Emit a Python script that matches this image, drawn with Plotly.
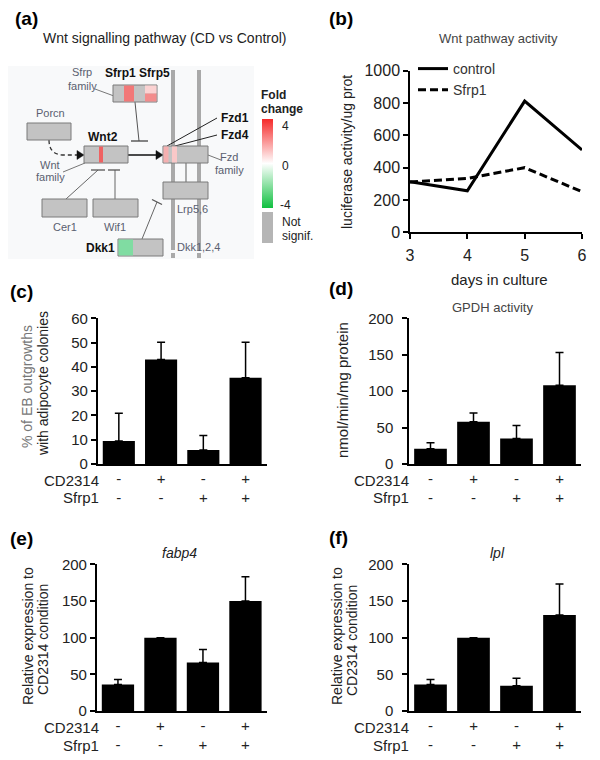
import plotly.graph_objects as go

# the page body has an 8px margin, so the figure is drawn at (8, 8) inside the 600x760 window
OFF = 8
W, H = 600 - OFF, 760 - OFF
FONT = "Liberation Sans, Arial, sans-serif"


def fx(x):
    return (x - OFF) / W


def fy(y):
    return 1 - (y - OFF) / H


# ---------------- data ----------------
days = [3, 4, 5, 6]
control_activity = [313, 257, 812, 510]
sfrp1_activity = [312, 333, 400, 251]

conditions = [0, 1, 2, 3]
cd2314_row = ["-", "+", "-", "+"]
sfrp1_row = ["-", "-", "+", "+"]

adipocyte = [9.5, 43, 5.8, 35.5]
adipocyte_err = [11.4, 7.1, 5.9, 14.6]
gpdh = [21, 58, 35, 108]
gpdh_err = [8, 12, 18, 45]
fabp4 = [36, 100, 66, 150]
fabp4_err = [7, 0, 18, 33]
lpl = [36, 100, 34.5, 131]
lpl_err = [7, 0, 10, 42]

fold_range = [-4, 0, 4]

# ---------------- figure ----------------
fig = go.Figure()

# (b) line chart
fig.add_trace(go.Scatter(x=days, y=control_activity, mode="lines", name="control",
                         line=dict(color="black", width=3), xaxis="x", yaxis="y"))
fig.add_trace(go.Scatter(x=days, y=sfrp1_activity, mode="lines", name="Sfrp1",
                         line=dict(color="black", width=3, dash="8px,4px"), xaxis="x", yaxis="y"))

# colour scale for panel (a)
fig.add_trace(go.Scatter(
    x=[3], y=[-500], mode="markers", showlegend=False, hoverinfo="skip", xaxis="x", yaxis="y",
    marker=dict(color=[0], cmin=fold_range[0], cmax=fold_range[-1], opacity=0, showscale=True,
                colorscale=[[0, "#10c040"], [0.5, "#ffffff"], [1, "#f52a2a"]],
                colorbar=dict(x=fx(262), xanchor="left", xpad=0, y=fy(163.5), yanchor="middle", ypad=0,
                              len=89, lenmode="pixels", thickness=11, outlinewidth=0,
                              showticklabels=False, ticks=""))))

bar_panels = [
    (adipocyte, adipocyte_err, "x2", "y2"),
    (gpdh, gpdh_err, "x3", "y3"),
    (fabp4, fabp4_err, "x4", "y4"),
    (lpl, lpl_err, "x5", "y5"),
]
for vals, errs, xa, ya in bar_panels:
    fig.add_trace(go.Bar(x=conditions, y=vals, marker=dict(color="black", line=dict(width=0)),
                         error_y=dict(type="data", array=errs, arrayminus=[0] * len(errs), symmetric=False,
                                      color="black", thickness=1.5, width=4),
                         showlegend=False, xaxis=xa, yaxis=ya))

axis_common = dict(showline=True, linecolor="black", linewidth=1.5, showgrid=False, zeroline=False,
                   ticks="outside", ticklen=5, tickwidth=1.5, tickcolor="black", automargin=False,
                   tickfont=dict(family=FONT, size=15, color="#222"), fixedrange=True)

ticktext = [f"{a}<br>{b}" for a, b in zip(cd2314_row, sfrp1_row)]
xbar = dict(axis_common, range=[-0.5, 3.5], tickvals=conditions, ticktext=ticktext, ticks="",
            tickfont=dict(family=FONT, size=15, color="#222"))
btick = dict(family=FONT, size=16, color="#222")

layout = dict(
    width=W, height=H, margin=dict(l=0, r=0, t=0, b=0, pad=0, autoexpand=False),
    paper_bgcolor="white", plot_bgcolor="white", bargap=0.24,
    font=dict(family=FONT, color="#222"),
    showlegend=True,
    legend=dict(x=fx(413), y=fy(53), xanchor="left", yanchor="top", bgcolor="rgba(0,0,0,0)",
                font=dict(family=FONT, size=14, color="#333"), tracegroupgap=0),
    xaxis=dict(axis_common, domain=[fx(410), fx(582)], range=[3, 6], tickvals=days, anchor="y",
               tickfont=btick, ticklabelstandoff=3),
    yaxis=dict(axis_common, domain=[fy(232.3), fy(70.7)], range=[0, 1000], dtick=200, anchor="x",
               tickfont=btick),
    xaxis2=dict(xbar, domain=[fx(97.7), fx(266.7)], anchor="y2"),
    yaxis2=dict(axis_common, domain=[fy(464), fy(318.3)], range=[0, 60], dtick=10, anchor="x2"),
    xaxis3=dict(xbar, domain=[fx(409), fx(581)], anchor="y3"),
    yaxis3=dict(axis_common, domain=[fy(464), fy(318.3)], range=[0, 200], dtick=50, anchor="x3",
                ticklabelstandoff=6),
    xaxis4=dict(xbar, domain=[fx(96.7), fx(266.7)], anchor="y4"),
    yaxis4=dict(axis_common, domain=[fy(711), fy(564.3)], range=[0, 200], dtick=50, anchor="x4"),
    xaxis5=dict(xbar, domain=[fx(409), fx(581)], anchor="y5"),
    yaxis5=dict(axis_common, domain=[fy(711), fy(564.3)], range=[0, 200], dtick=50, anchor="x5",
                ticklabelstandoff=6),
)
fig.update_layout(**layout)

# ---------------- annotations ----------------
anns = []


def ann(text, x, y, size=13, color="#222", xanchor="center", angle=0, bold=False, italic=False):
    if bold:
        text = f"<b>{text}</b>"
    if italic:
        text = f"<i>{text}</i>"
    anns.append(dict(text=text, x=fx(x), y=fy(y), xref="paper", yref="paper", showarrow=False,
                     xanchor=xanchor, yanchor="middle", textangle=angle,
                     font=dict(family=FONT, size=size, color=color)))


# panel letters
ann("(a)", 13, 18, 19, "black", "left", bold=True)
ann("(b)", 327, 18, 19, "black", "left", bold=True)
ann("(c)", 8, 291, 19, "black", "left", bold=True)
ann("(d)", 327, 288, 19, "black", "left", bold=True)
ann("(e)", 8, 538, 19, "black", "left", bold=True)
ann("(f)", 327, 537, 19, "black", "left", bold=True)

# titles
ann("Wnt signalling pathway (CD vs Control)", 165, 38, 14, "#222")
ann("Wnt pathway activity", 498, 39, 13, "#444")
ann("GPDH activity", 492, 307, 13, "#444")
ann("fabp4", 180, 553, 14, "#222", italic=True)
ann("lpl", 497, 553, 14, "#222", italic=True)

# axis titles
ann("luciferase activity/ug prot", 347, 152, 14, "#222", angle=-90)
ann("days in culture", 499, 279, 15, "#222")
ann("% of EB outgrowths", 27, 387, 14, "#777", angle=-90)
ann("with adipocyte colonies", 43, 384, 14, "#222", angle=-90)
ann("nmol/min/mg protein", 342, 390, 15, "#222", angle=-90)
ann("Relative expression to", 28, 636, 14, "#222", angle=-90)
ann("CD2314 condition", 43, 640, 14, "#222", angle=-90)
ann("Relative expression to", 337, 636, 14, "#222", angle=-90)
ann("CD2314 condition", 352, 640, 14, "#222", angle=-90)

# treatment row labels
for xr, y1, y2 in [(101, 480, 498), (411, 480, 498), (101, 727, 745), (411, 727, 745)]:
    ann("CD2314", xr, y1, 15, "#222", "right")
    ann("Sfrp1", xr, y2, 15, "#222", "right")

# diagram labels
GL = "#5a6070"
ann("Sfrp1 Sfrp5", 137, 73, 12, "#111", bold=True)
ann("Sfrp", 82, 72, 11, GL)
ann("family", 82, 86, 11, GL)
ann("Porcn", 50, 113, 11, GL)
ann("Wnt2", 103, 137, 12, "#111", bold=True)
ann("Wnt", 50, 165, 11, GL)
ann("family", 50, 177, 11, GL)
ann("Fzd1", 219, 118, 12, "#111", "left", bold=True)
ann("Fzd4", 219, 135, 12, "#111", "left", bold=True)
ann("Fzd", 229, 157, 11, GL)
ann("family", 229, 170, 11, GL)
ann("Cer1", 65, 227, 11, GL)
ann("Wif1", 115, 227, 11, GL)
ann("Lrp5,6", 175, 209, 11, GL, "left")
ann("Dkk1", 117, 248, 12, "#111", "right", bold=True)
ann("Dkk1,2,4", 175, 247, 11, GL, "left")
ann("Fold", 259, 95, 12, "#222", "left", bold=True)
ann("change", 259, 109, 12, "#222", "left", bold=True)
ann("4", 280, 126, 12, "#222", "left")
ann("0", 280, 166, 12, "#222", "left")
ann("-4", 278, 205, 12, "#222", "left")
ann("Not", 280, 222, 12, "#222", "left")
ann("signif.", 280, 236, 12, "#222", "left")

fig.update_layout(annotations=anns)

# ---------------- diagram shapes ----------------
shapes = []


def rect(x0, y0, x1, y1, fill, line="#7a7a7a", lw=1):
    shapes.append(dict(type="rect", xref="paper", yref="paper", x0=fx(x0), x1=fx(x1), y0=fy(y1), y1=fy(y0),
                       fillcolor=fill, line=dict(color=line, width=lw)))


def seg(x0, y0, x1, y1, color="#555", w=1, dash="solid"):
    shapes.append(dict(type="line", xref="paper", yref="paper", x0=fx(x0), x1=fx(x1), y0=fy(y0), y1=fy(y1),
                       line=dict(color=color, width=w, dash=dash)))


def poly(pts, fill):
    d = "M " + " L ".join(f"{fx(x):.5f},{fy(y):.5f}" for x, y in pts) + " Z"
    shapes.append(dict(type="path", xref="paper", yref="paper", path=d, fillcolor=fill,
                       line=dict(color=fill, width=0.5)))


# light background
rect(8, 66, 254, 259, "#f8f9fa", line="rgba(0,0,0,0)", lw=0)

# membrane lines
for mx in (173, 199):
    seg(mx, 70, mx, 250, "#a9a9a9", 4)
    seg(mx, 253, mx, 258, "#a9a9a9", 4)

# connectors Fzd -> Lrp
seg(186, 163, 186, 182, "#777", 1.2)

# Sfrp label line and inhibition
seg(95, 89, 114, 96, "#777", 1)
seg(135, 102, 139, 141, "#555", 1)
seg(131, 141, 148, 141, "#444", 1.3)

# Wnt family label line
seg(63, 172, 85, 163, "#777", 1)

# Porcn dashed arrow
shapes.append(dict(type="path", xref="paper", yref="paper",
                   path=f"M {fx(49)},{fy(140)} Q {fx(49)},{fy(155)} {fx(64)},{fy(155)} L {fx(78)},{fy(155)}",
                   line=dict(color="#333", width=1.3, dash="4px,3px")))
poly([(77, 150.5), (84, 155), (77, 159.5)], "#111")

# Wnt2 -> Fzd arrow
seg(128, 155, 157, 155, "#111", 1.5)
poly([(156, 150.5), (163, 155), (156, 159.5)], "#111")

# Cer1 / Wif1 inhibition
seg(66, 199, 98, 170, "#666", 1)
seg(115, 199, 115, 170, "#666", 1)
seg(91, 170, 105, 170, "#555", 1.3)
seg(108, 170, 120, 170, "#555", 1.3)

# Dkk1 inhibition
seg(142, 239, 157, 202, "#666", 1)
seg(152, 199.5, 162, 204.5, "#555", 1.3)

# Fzd label lines
seg(217, 118, 167, 146, "#222", 1)
seg(217, 135, 175, 146, "#222", 1)
seg(208, 155, 221, 160, "#777", 1)

# boxes
BOX = "#c3c3c3"
rect(113, 85, 157, 102, BOX)          # Sfrp
rect(124, 85.5, 134, 101.5, "#f27878", line="rgba(0,0,0,0)", lw=0)
rect(145, 85.5, 156.5, 93.5, "#fbd2d2", line="rgba(0,0,0,0)", lw=0)
rect(145, 93.5, 156.5, 101.5, "#f38c8c", line="rgba(0,0,0,0)", lw=0)
rect(27, 123, 71, 140, BOX)           # Porcn
rect(84, 146, 128, 163, BOX)          # Wnt2
rect(99, 146.5, 103, 162.5, "#ef6262", line="rgba(0,0,0,0)", lw=0)
rect(163, 146, 208, 163, BOX)         # Fzd
rect(163.5, 146.5, 168.5, 162.5, "#f5b0b0", line="rgba(0,0,0,0)", lw=0)
rect(172, 146.5, 177, 162.5, "#f9c8c8", line="rgba(0,0,0,0)", lw=0)
rect(163, 182, 208, 199, BOX)         # Lrp
rect(42, 199, 87, 217, BOX)           # Cer1
rect(93, 199, 138, 217, BOX)          # Wif1
rect(118, 239, 163, 256, BOX)         # Dkk1
rect(118.5, 239.5, 133, 255.5, "#80dca2", line="rgba(0,0,0,0)", lw=0)

# legend "not significant" swatch
rect(262, 212, 273, 243, "#b5b5b5", line="rgba(0,0,0,0)", lw=0)

fig.update_layout(shapes=shapes)

fig.write_html("out.html")
